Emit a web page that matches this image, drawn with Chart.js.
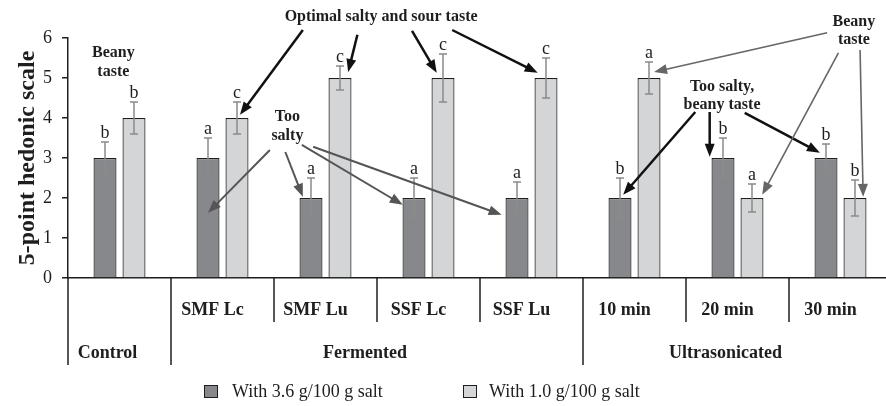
<!DOCTYPE html>
<html>
<head>
<meta charset="utf-8">
<script src="https://cdn.jsdelivr.net/npm/chart.js@4.4.0/dist/chart.umd.min.js"></script>
<style>
  html, body { margin: 0; padding: 0; background: #fff; overflow: hidden; }
  #wrap { width: 892px; height: 406px; }
</style>
</head>
<body>
<div id="wrap"><canvas id="chart" width="892" height="406"></canvas></div>
<script>
// Data
const treatments = ['Control', 'SMF Lc', 'SMF Lu', 'SSF Lc', 'SSF Lu', '10 min', '20 min', '30 min'];
const subLabels = ['', 'SMF Lc', 'SMF Lu', 'SSF Lc', 'SSF Lu', '10 min', '20 min', '30 min'];
const groupNames = ['Control', 'Fermented', 'Ultrasonicated'];
const groupSizes = [1, 4, 3];

const highSalt = [3, 3, 2, 2, 2, 2, 3, 3];
const highSaltErr = [0.4, 0.5, 0.5, 0.5, 0.4, 0.5, 0.5, 0.35];
const highSaltLetters = ['b', 'a', 'a', 'a', 'a', 'b', 'b', 'b'];

const lowSalt = [4, 4, 5, 5, 5, 5, 2, 2];
const lowSaltErr = [0.4, 0.4, 0.3, 0.6, 0.5, 0.4, 0.35, 0.45];
const lowSaltLetters = ['b', 'c', 'c', 'c', 'c', 'a', 'a', 'b'];

const yMin = 0, yMax = 6, yStep = 1;

// Notes on the plot, in data units (x = category index, y = score)
const notes = [
  { lines: ['Beany', 'taste'], x: -0.06, y: [5.62, 5.15] },
  { lines: ['Optimal salty and sour taste'], x: 2.54, y: [6.52] },
  { lines: ['Too', 'salty'], x: 1.63, y: [4.02, 3.55] },
  { lines: ['Too salty,', 'beany taste'], x: 5.85, y: [4.78, 4.32] },
  { lines: ['Beany', 'taste'], x: 7.13, y: [6.4, 5.95] }
];
const arrows = [
  // optimal salty and sour taste
  { from: [1.78, 6.2], to: [1.17, 4.08], kind: 'dark' },
  { from: [2.31, 6.08], to: [2.22, 5.15], kind: 'dark' },
  { from: [2.84, 6.18], to: [3.08, 5.13], kind: 'dark' },
  { from: [3.23, 6.2], to: [4.06, 5.13], kind: 'dark' },
  // too salty
  { from: [1.46, 3.2], to: [0.86, 1.63], kind: 'mid' },
  { from: [1.61, 3.15], to: [1.78, 2.03], kind: 'mid' },
  { from: [1.77, 3.33], to: [2.75, 1.83], kind: 'mid' },
  { from: [1.88, 3.28], to: [3.71, 1.58], kind: 'mid' },
  // too salty, beany taste
  { from: [5.59, 4.15], to: [4.89, 2.08], kind: 'dark' },
  { from: [5.73, 4.15], to: [5.73, 3.03], kind: 'dark' },
  { from: [6.07, 4.13], to: [6.80, 3.13], kind: 'dark' },
  // beany taste
  { from: [6.87, 6.13], to: [5.19, 5.15], kind: 'light' },
  { from: [6.98, 5.63], to: [6.24, 2.08], kind: 'light' },
  { from: [7.19, 5.70], to: [7.22, 2.03], kind: 'light' }
];

const serif = "'Liberation Serif', 'DejaVu Serif', serif";
const ink = '#1e1e1e';
const arrowStyles = {
  dark: { color: '#111', width: 2.5 },
  mid: { color: '#555', width: 2 },
  light: { color: '#666', width: 1.6 }
};

function drawArrow(ctx, x1, y1, x2, y2, style) {
  const ang = Math.atan2(y2 - y1, x2 - x1);
  const len = 13, half = 5;
  const c = Math.cos(ang), s = Math.sin(ang);
  ctx.save();
  ctx.strokeStyle = style.color;
  ctx.fillStyle = style.color;
  ctx.lineWidth = style.width;
  ctx.beginPath();
  ctx.moveTo(x1, y1);
  ctx.lineTo(x2 - len * 0.8 * c, y2 - len * 0.8 * s);
  ctx.stroke();
  ctx.beginPath();
  ctx.moveTo(x2, y2);
  ctx.lineTo(x2 - len * c + half * s, y2 - len * s - half * c);
  ctx.lineTo(x2 - len * c - half * s, y2 - len * s + half * c);
  ctx.closePath();
  ctx.fill();
  ctx.restore();
}

const decorations = {
  id: 'decorations',
  afterDatasetsDraw(chart) {
    const { ctx, scales: { y } } = chart;
    // error bars and significance letters
    chart.data.datasets.forEach((ds, di) => {
      const meta = chart.getDatasetMeta(di);
      meta.data.forEach((bar, i) => {
        const top = y.getPixelForValue(ds.data[i] + ds.err[i]);
        const bot = y.getPixelForValue(ds.data[i] - ds.err[i]);
        ctx.save();
        ctx.strokeStyle = '#8a8a8a';
        ctx.lineWidth = 1.5;
        ctx.beginPath();
        ctx.moveTo(bar.x, top); ctx.lineTo(bar.x, bot);
        ctx.moveTo(bar.x - 4, top); ctx.lineTo(bar.x + 4, top);
        ctx.moveTo(bar.x - 4, bot); ctx.lineTo(bar.x + 4, bot);
        ctx.stroke();
        ctx.fillStyle = ink;
        ctx.font = '18px ' + serif;
        ctx.textAlign = 'center';
        ctx.textBaseline = 'alphabetic';
        ctx.fillText(ds.letters[i], bar.x, top - 4);
        ctx.restore();
      });
    });
  },
  afterDraw(chart) {
    const { ctx, chartArea, scales: { x, y } } = chart;
    const bottom = chartArea.bottom;
    const half = (x.getPixelForValue(1) - x.getPixelForValue(0)) / 2;

    // category hierarchy under the axis
    ctx.save();
    ctx.strokeStyle = ink;
    ctx.lineWidth = 1.5;
    const groupStarts = [];
    let idx = 0;
    groupSizes.forEach(n => { groupStarts.push(idx); idx += n; });
    for (let i = 0; i < treatments.length; i++) {
      const bx = x.getPixelForValue(i) - half;
      const long = groupStarts.includes(i);
      ctx.beginPath();
      ctx.moveTo(bx, bottom);
      ctx.lineTo(bx, bottom + (long ? 87 : 44));
      ctx.stroke();
    }
    ctx.fillStyle = ink;
    ctx.textAlign = 'center';
    ctx.textBaseline = 'middle';
    ctx.font = 'bold 18px ' + serif;
    subLabels.forEach((lab, i) => {
      if (lab) ctx.fillText(lab, x.getPixelForValue(i) - 10, bottom + 32);
    });
    groupNames.forEach((g, gi) => {
      const first = groupStarts[gi];
      const last = first + groupSizes[gi] - 1;
      const cx = (x.getPixelForValue(first) + x.getPixelForValue(last)) / 2 - 12;
      ctx.fillText(g, cx, bottom + 75);
    });

    // legend
    const legendPos = [{ box: 204, text: 232 }, { box: 463, text: 489 }];
    ctx.font = '18px ' + serif;
    ctx.textAlign = 'left';
    chart.data.datasets.forEach((ds, di) => {
      const p = legendPos[di];
      ctx.fillStyle = ds.backgroundColor;
      ctx.fillRect(p.box, 385, 14, 13);
      ctx.lineWidth = 1;
      ctx.strokeStyle = ink;
      ctx.strokeRect(p.box + 0.5, 385.5, 13, 12);
      ctx.fillStyle = ink;
      ctx.fillText(ds.label, p.text, 392);
    });

    // annotations
    arrows.forEach(a => {
      drawArrow(ctx,
        x.getPixelForValue(a.from[0]), y.getPixelForValue(a.from[1]),
        x.getPixelForValue(a.to[0]), y.getPixelForValue(a.to[1]),
        arrowStyles[a.kind]);
    });
    ctx.font = 'bold 16px ' + serif;
    ctx.textAlign = 'center';
    ctx.fillStyle = ink;
    notes.forEach(n => {
      n.lines.forEach((line, li) => {
        ctx.fillText(line, x.getPixelForValue(n.x), y.getPixelForValue(n.y[li]));
      });
    });
    ctx.restore();
  }
};

new Chart(document.getElementById('chart').getContext('2d'), {
  type: 'bar',
  data: {
    labels: treatments,
    datasets: [
      {
        label: 'With 3.6 g/100 g salt',
        data: highSalt,
        err: highSaltErr,
        letters: highSaltLetters,
        backgroundColor: '#87888b',
        borderColor: '#1e1e1e',
        borderWidth: 1.2
      },
      {
        label: 'With 1.0 g/100 g salt',
        data: lowSalt,
        err: lowSaltErr,
        letters: lowSaltLetters,
        backgroundColor: '#d4d5d7',
        borderColor: '#1e1e1e',
        borderWidth: 1.2
      }
    ]
  },
  options: {
    responsive: false,
    animation: false,
    devicePixelRatio: 1,
    categoryPercentage: 0.563,
    barPercentage: 0.793,
    layout: { padding: { top: 38, bottom: 128, left: 0, right: 0 } },
    plugins: {
      legend: { display: false },
      tooltip: { enabled: false }
    },
    scales: {
      x: {
        grid: { display: true, drawOnChartArea: false, drawTicks: false },
        border: { color: '#1e1e1e', width: 1.5 },
        ticks: { display: false },
        afterFit(scale) { scale.height = 0; }
      },
      y: {
        min: yMin,
        max: yMax,
        ticks: {
          stepSize: yStep,
          color: '#1e1e1e',
          padding: 10,
          font: { family: serif, size: 18 }
        },
        grid: { drawOnChartArea: false, drawTicks: true, tickLength: 6, color: '#1e1e1e', lineWidth: 1.5 },
        border: { color: '#1e1e1e', width: 1.5 },
        title: {
          display: true,
          text: '5-point hedonic scale',
          color: '#1e1e1e',
          font: { family: serif, size: 24, weight: 'bold' },
          padding: { top: 13, bottom: 0 }
        },
        afterFit(scale) { scale.width = 68; }
      }
    }
  },
  plugins: [decorations]
});
</script>
</body>
</html>
